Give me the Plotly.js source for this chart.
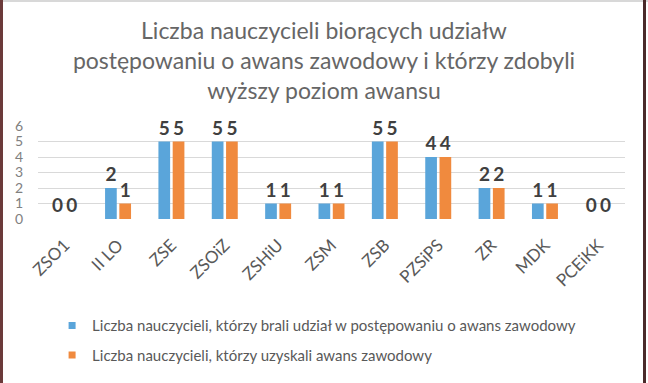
<!DOCTYPE html>
<html><head><meta charset="utf-8">
<script src="https://cdn.plot.ly/plotly-3.0.1.min.js"></script>
<style>
html,body{margin:0;padding:0;background:#fff;}
#wrap{position:relative;width:648px;height:383px;overflow:hidden;}
#wrap:before{content:"";position:absolute;left:0;top:0;width:3px;height:383px;background:#6b3a3a;z-index:5;}
#wrap:after{content:"";position:absolute;right:2px;top:0;width:3px;height:383px;background:#4a2a2a;z-index:5;}
#topline{position:absolute;left:0;top:0;width:648px;height:2px;background:#d8d8d8;z-index:4;}
#chart{width:648px;height:383px;}
</style></head>
<body><div id="wrap"><div id="topline"></div><div id="chart"></div></div>
<script>
const categories = ["ZSO1","II LO","ZSE","ZSOiZ","ZSHiU","ZSM","ZSB","PZSiPS","ZR","MDK","PCEiKK"];
const participated = [0,2,5,5,1,1,5,4,2,1,0];
const promoted = [0,1,5,5,1,1,5,4,2,1,0];
const seriesNames = ["Liczba nauczycieli, którzy brali udział w postępowaniu o awans zawodowy","Liczba nauczycieli, którzy uzyskali awans zawodowy"];
const titleText = "Liczba nauczycieli biorących udziałw<br>postępowaniu o awans zawodowy i którzy zdobyli<br>wyższy poziom awansu";
const yTicks = [0,1,2,3,4,5,6];
const colors = ["#5AA5DA", "#F08A3E"];

const labelFont = {family:"Lato, 'Open Sans', sans-serif", size:19, color:"#404040", weight:"bold"};
function mkBar(vals, name, color){
  return {type:"bar", x:categories, y:vals, name:name, marker:{color:color},
    text:vals.map(String), textposition:"outside", textfont:labelFont, cliponaxis:false,
    showlegend:false, hoverinfo:"none"};
}
function mkLegend(name, color, grp){
  return {type:"scatter", mode:"markers", x:[null], y:[null], name:name, legendgroup:grp,
    marker:{symbol:"square", size:7, color:color}, showlegend:true, hoverinfo:"none"};
}
const data = [
  mkBar(participated, seriesNames[0], colors[0]),
  mkBar(promoted, seriesNames[1], colors[1]),
  mkLegend(seriesNames[0], colors[0], "a"),
  mkLegend(seriesNames[1], colors[1], "b")
];
const layout = {
  width:648, height:383,
  margin:{l:38, r:23, t:126, b:154},
  paper_bgcolor:"#fff", plot_bgcolor:"#fff",
  title:{text:titleText, x:0.5, xanchor:"center", y:0.897, yanchor:"middle",
    font:{family:"Lato, 'Open Sans', sans-serif", size:23, color:"#666666"}},
  barmode:"group", bargap:0.465, bargroupgap:0.18,
  xaxis:{type:"category", tickangle:-45, tickfont:{family:"Lato, sans-serif", size:17, color:"#595959"},
    showgrid:false, zeroline:false, showline:false, ticks:"", ticklabelstandoff:12},
  yaxis:{range:[0,6], tickvals:yTicks, ticktext:yTicks.map(String), tickfont:{family:"Lato, sans-serif", size:14, color:"#808080"},
    gridcolor:"#d9d9d9", gridwidth:1, zeroline:false, showline:false, ticks:"", ticklabelstandoff:14},
  showlegend:true,
  legend:{x:0.024, xanchor:"left", y:-0.97, yanchor:"top", orientation:"v", tracegroupgap:7,
    font:{family:"Lato, sans-serif", size:15, color:"#595959"}, itemwidth:30, bgcolor:"rgba(0,0,0,0)"}
};
Plotly.newPlot("chart", data, layout, {staticPlot:true, displayModeBar:false});
</script></body></html>
